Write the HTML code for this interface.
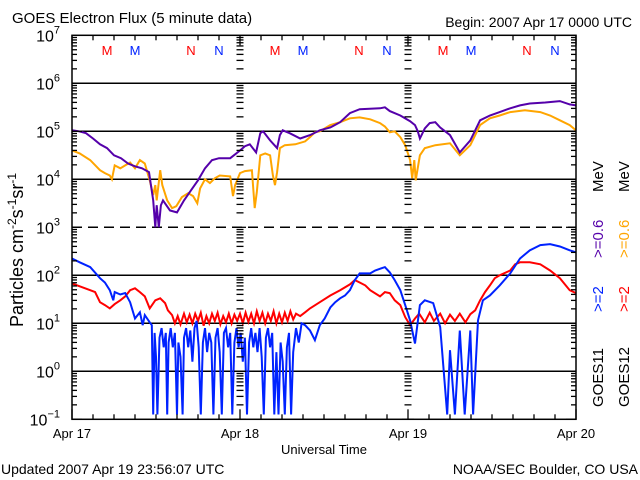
<!DOCTYPE html>
<html><head><meta charset="utf-8"><style>
html,body{margin:0;padding:0;background:#fff;}
svg{display:block;font-family:"Liberation Sans",sans-serif;}
</style></head><body>
<svg id="chart" width="640" height="480" viewBox="0 0 640 480" xmlns="http://www.w3.org/2000/svg">
<rect width="640" height="480" fill="#fff"/>
<g id="grid"></g>
<g id="series"></g>
<g id="axes"></g>
<text x="12" y="23" font-size="15">GOES Electron Flux (5 minute data)</text>
<text x="632" y="27" font-size="14" text-anchor="end">Begin: 2007 Apr 17 0000 UTC</text>
<text x="324" y="454" font-size="13" text-anchor="middle">Universal Time</text>
<text x="1" y="474" font-size="14">Updated 2007 Apr 19 23:56:07 UTC</text>
<text x="638" y="474" font-size="14" text-anchor="end">NOAA/SEC Boulder, CO USA</text>
<text transform="translate(23,250) rotate(-90)" font-size="18" text-anchor="middle">Particles cm<tspan dy="-7" font-size="12">-2</tspan><tspan dy="7">s</tspan><tspan dy="-7" font-size="12">-1</tspan><tspan dy="7">sr</tspan><tspan dy="-7" font-size="12">-1</tspan></text>
<g font-size="15">
<text transform="translate(603,407) rotate(-90)">GOES11</text>
<text transform="translate(603,312) rotate(-90)" fill="#0022ff">&gt;=2</text>
<text transform="translate(603,258) rotate(-90)" fill="#5500aa">&gt;=0.6</text>
<text transform="translate(603,192) rotate(-90)">MeV</text>
</g>
<g font-size="15">
<text transform="translate(629,407) rotate(-90)">GOES12</text>
<text transform="translate(629,312) rotate(-90)" fill="#ff0000">&gt;=2</text>
<text transform="translate(629,258) rotate(-90)" fill="#ffa500">&gt;=0.6</text>
<text transform="translate(629,192) rotate(-90)">MeV</text>
</g>
<g id="marks" font-size="13" text-anchor="middle"></g>
</svg>
<script>
const hoursP=[0,1,2,3,4,5,6,7,8,9,10,11,11.6,11.9,12.1,12.4,12.7,13,14,15,16,17,18,19,20,21,22.6,24,24.7,25.4,26.3,26.9,27.3,28.3,29.3,29.7,30.1,31.1,32.6,34,35.4,36.9,38.3,39.7,41.1,44,44.7,45.4,46.9,48.3,49,49.4,49.7,50.4,51.1,51.9,52.6,54,55.4,56.9,58.3,59.7,61.1,62.6,64,65.4,67.6,69.7,71.1,72];
const logP=[5.02,5.00,4.96,4.85,4.73,4.65,4.50,4.44,4.33,4.27,4.23,4.15,3.56,3.0,3.46,3.0,3.46,3.56,3.35,3.31,3.56,3.77,3.98,4.23,4.40,4.44,4.44,4.60,4.69,4.73,4.56,4.96,5.00,4.81,4.65,4.92,5.02,4.96,4.85,4.92,5.02,5.08,5.19,5.38,5.46,5.48,5.50,5.42,5.33,5.21,5.13,5.00,4.85,5.06,5.17,5.19,5.08,4.92,4.56,4.81,5.23,5.33,5.40,5.48,5.54,5.58,5.60,5.63,5.56,5.54];
const hoursO=[0,1.1,2.6,4,4.7,5.4,5.7,6.1,6.9,7.6,8.3,9,9.7,10.4,11.1,11.6,11.9,12.1,12.6,12.9,13.6,14.3,14.9,15.7,16.6,17.3,17.9,18.3,19,19.7,20.4,21.1,22.6,23,23.3,24,24.7,25.7,26.1,26.4,26.9,27.6,28.3,28.7,29,29.3,29.7,30.4,31.9,33.3,34,34.7,35.4,36.9,38.3,39.7,41.1,42.6,44,44.7,45.4,46.1,46.9,47.6,48.3,48.6,48.9,49.1,49.7,50.4,51.9,54,55.4,56.9,58.3,59.7,61.1,62.6,64.7,66.9,68.3,69.7,71.1,72];
const logO=[4.60,4.54,4.40,4.19,4.13,4.08,4.00,4.29,4.23,4.29,4.35,4.23,4.40,4.33,3.98,3.67,3.88,3.56,4.19,3.88,3.56,3.40,3.44,3.63,3.71,3.65,3.50,3.81,4.00,3.92,4.02,4.08,4.06,3.65,3.88,4.13,4.17,4.19,3.40,3.73,4.50,4.54,4.50,4.08,3.88,4.15,4.65,4.71,4.73,4.79,4.88,4.98,5.00,5.13,5.19,5.27,5.29,5.25,5.17,5.10,4.98,5.00,4.88,4.71,4.40,4.02,4.40,3.98,4.50,4.65,4.71,4.75,4.50,4.71,5.13,5.27,5.33,5.40,5.44,5.40,5.33,5.23,5.13,5.02];
const hoursB=[0,1.1,2.6,4,4.7,5.4,5.9,6.1,6.9,7.6,8.3,9,9.7,10.1,10.4,11.1,11.4,11.6,11.8,12.0,12.2,12.5,12.8,13.1,13.4,13.6,13.8,14.1,14.4,14.7,15.0,15.2,15.5,15.8,16.0,16.3,16.6,16.9,17.2,17.5,17.8,18.1,18.4,18.7,19.0,19.3,19.6,19.9,20.2,20.5,20.8,21.1,21.4,21.7,22.0,22.3,22.6,22.9,23.2,23.5,23.8,24.1,24.4,24.7,25.0,25.3,25.6,25.9,26.2,26.5,26.8,27.1,27.4,27.7,28.0,28.3,28.6,28.9,29.2,29.5,29.8,30.1,30.4,30.7,31.0,31.3,31.6,32.0,32.4,32.8,33.3,34,34.7,35.4,36.1,36.9,37.6,38.3,39,39.7,40.4,41.1,42.6,43.3,44.7,45.4,46.1,46.9,47.6,48.3,49,49.7,50.4,51.6,52.6,53.6,54,54.7,55.4,56.1,56.9,57.3,58,58.7,59.7,61.1,62.6,64,65.4,66.9,68.3,69.7,71.1,72];
const logB=[2.35,2.27,2.17,1.94,1.85,1.69,1.48,1.65,1.60,1.63,1.44,1.10,1.23,0.96,1.17,1.02,0.96,-0.9,0.8,0.3,-0.9,0.7,0.9,0.5,0.8,-0.9,0.6,0.9,0.5,0.8,-0.9,0.6,0.3,-0.9,0.7,0.9,0.5,0.85,0.2,0.9,1.05,0.5,-0.9,0.6,0.9,0.4,0.8,0.6,-0.9,0.7,0.9,0.4,-0.9,0.8,0.9,0.5,0.8,-0.9,0.6,0.9,0.5,0.8,0.2,0.7,-0.9,0.6,0.9,0.5,0.8,0.4,0.9,0.3,-0.9,0.7,0.9,0.5,0.8,-0.9,0.4,-0.9,0.6,0.2,-0.9,0.5,0.8,-0.9,0.4,0.9,0.6,1.0,0.96,0.85,0.65,0.96,1.10,1.33,1.44,1.52,1.58,1.69,1.90,2.04,2.04,2.10,2.17,2.06,1.90,1.69,1.38,1.06,0.58,1.38,1.48,1.42,0.92,-0.9,0.44,-0.9,0.85,-0.9,0.85,-0.9,1.06,1.48,1.58,1.79,2.04,2.35,2.52,2.63,2.65,2.60,2.52,2.48];
const hoursR=[0,1.1,2.6,3.3,4,4.7,5.4,6.1,6.9,7.6,8.3,9,9.7,10.4,11.1,11.9,12.6,13.3,13.7,14.3,14.7,15.1,15.5,16.0,16.4,16.8,17.2,17.6,18.0,18.4,18.8,19.2,19.6,20.0,20.4,20.8,21.2,21.6,22.0,22.4,22.8,23.2,23.6,24.0,24.4,24.8,25.2,25.6,26.0,26.4,26.8,27.2,27.6,28.0,28.4,28.8,29.2,29.6,30.0,30.4,30.8,31.2,31.6,32.0,32.6,33.3,34,35.4,36.9,38.3,39.7,40.4,41.1,41.9,42.6,44,44.7,45.4,46.1,46.9,47.6,48.3,49,49.6,50.4,51.1,51.7,52.6,53.3,54,54.7,55.4,56.2,56.9,57.6,58.3,59,59.7,60.4,61.1,62.6,63.3,64,65.4,66.9,68.3,69.7,71.1,72];
const logR=[1.83,1.77,1.69,1.65,1.44,1.38,1.31,1.40,1.48,1.56,1.69,1.73,1.65,1.56,1.31,1.48,1.52,1.42,1.27,1.17,1.0,1.15,0.98,1.2,1.02,1.18,1.0,1.2,1.05,1.22,0.95,1.15,1.0,1.2,1.05,1.22,0.98,1.15,1.02,1.2,1.0,1.18,1.05,1.2,1.0,1.22,1.03,1.2,1.0,1.25,1.05,1.22,1.0,1.2,1.05,1.25,1.0,1.2,1.02,1.22,1.05,1.25,1.08,1.2,1.15,1.23,1.31,1.44,1.58,1.69,1.81,1.90,1.85,1.79,1.69,1.56,1.65,1.63,1.48,1.38,1.13,0.96,1.10,1.2,1.02,1.22,1.05,1.2,1.0,1.18,1.05,1.2,1.02,1.19,1.27,1.48,1.65,1.79,1.94,2.00,2.10,2.23,2.27,2.27,2.23,2.10,1.94,1.69,1.63];
const yTickExp=[7,6,5,4,3,2,1,0,-1];
const dayLabels=["Apr 17","Apr 18","Apr 19","Apr 20"];
const markLetters=["M","M","N","N"];
const markHours=[5,9,17,21];
const markColors=["#ff0000","#0022ff","#ff0000","#0022ff"];

const NS="http://www.w3.org/2000/svg";
const X0=72,X1=576,Y0=35.3,Y1=419.3;
const xs=h=>X0+(X1-X0)*h/72;
const ys=l=>Y0+(Y1-Y0)*(7-l)/8;
function mk(tag,attrs,parent){const e=document.createElementNS(NS,tag);for(const k in attrs)e.setAttribute(k,attrs[k]);parent.appendChild(e);return e;}
const grid=document.getElementById('grid'),axes=document.getElementById('axes'),ser=document.getElementById('series'),marks=document.getElementById('marks');

yTickExp.forEach(e=>{
  if(e===7||e===-1)return;
  const ln=mk('line',{x1:X0,x2:X1,y1:ys(e),y2:ys(e),stroke:'#000','stroke-width':1.5},grid);
  
  
  if(e===3)ln.setAttribute('stroke-dasharray','10,6');
});
const fr=mk('rect',{x:X0,y:Y0,width:X1-X0,height:Y1-Y0,fill:'none',stroke:'#000','stroke-width':1.5},axes);


for(let e=-1;e<7;e++){
  for(let m=1;m<10;m++){
    const l=e+Math.log10(m);const y=ys(l);const len=m===1?10:5;
    [[X0,X0+len],[X1-len,X1],[xs(24)-len/2-1,xs(24)+len/2+1],[xs(48)-len/2-1,xs(48)+len/2+1]].forEach(p=>{
      const t=mk('line',{x1:p[0],x2:p[1],y1:y,y2:y,stroke:'#000','stroke-width':1.3},axes);
      
      
    });
  }
}
yTickExp.forEach(e=>{
  const t=mk('text',{x:60,y:ys(e)+6,'font-size':16,'text-anchor':'end'},axes);
  
  
  t.textContent='10';
  const s=mk('tspan',{dy:-8,'font-size':11},t);s.textContent=String(e).replace('-','\u2212');
});
for(let h=0;h<=72;h+=3){
  const len=h%24===0?10:5;
  [[Y1,Y1-len],[Y0,Y0+len]].forEach(p=>{
    const t=mk('line',{x1:xs(h),x2:xs(h),y1:p[0],y2:p[1],stroke:'#000','stroke-width':1.3},axes);
    
    
  });
}
dayLabels.forEach((d,i)=>{
  const t=mk('text',{x:xs(i*24),y:438,'font-size':13,'text-anchor':'middle'},axes);
  
  
  t.textContent=d;
});
for(let d=0;d<3;d++)markHours.forEach((h,i)=>{
  const t=mk('text',{x:xs(d*24+h),y:55,fill:markColors[i]},marks);
  
  
  t.textContent=markLetters[i];
});
function series(hs,ls,color,name){
  const pts=hs.map((h,i)=>xs(h).toFixed(1)+','+ys(Math.max(-0.9,ls[i])).toFixed(1)).join(' ');
  const p=mk('polyline',{points:pts,fill:'none',stroke:color,'stroke-width':2,'stroke-linejoin':'miter'},ser);
  
  
}
series(hoursO,logO,'#ffa500','goes12-0p6mev-line');
series(hoursP,logP,'#5500aa','goes11-0p6mev-line');
series(hoursR,logR,'#ff0000','goes12-2mev-line');
series(hoursB,logB,'#0022ff','goes11-2mev-line');
</script>
</body></html>
